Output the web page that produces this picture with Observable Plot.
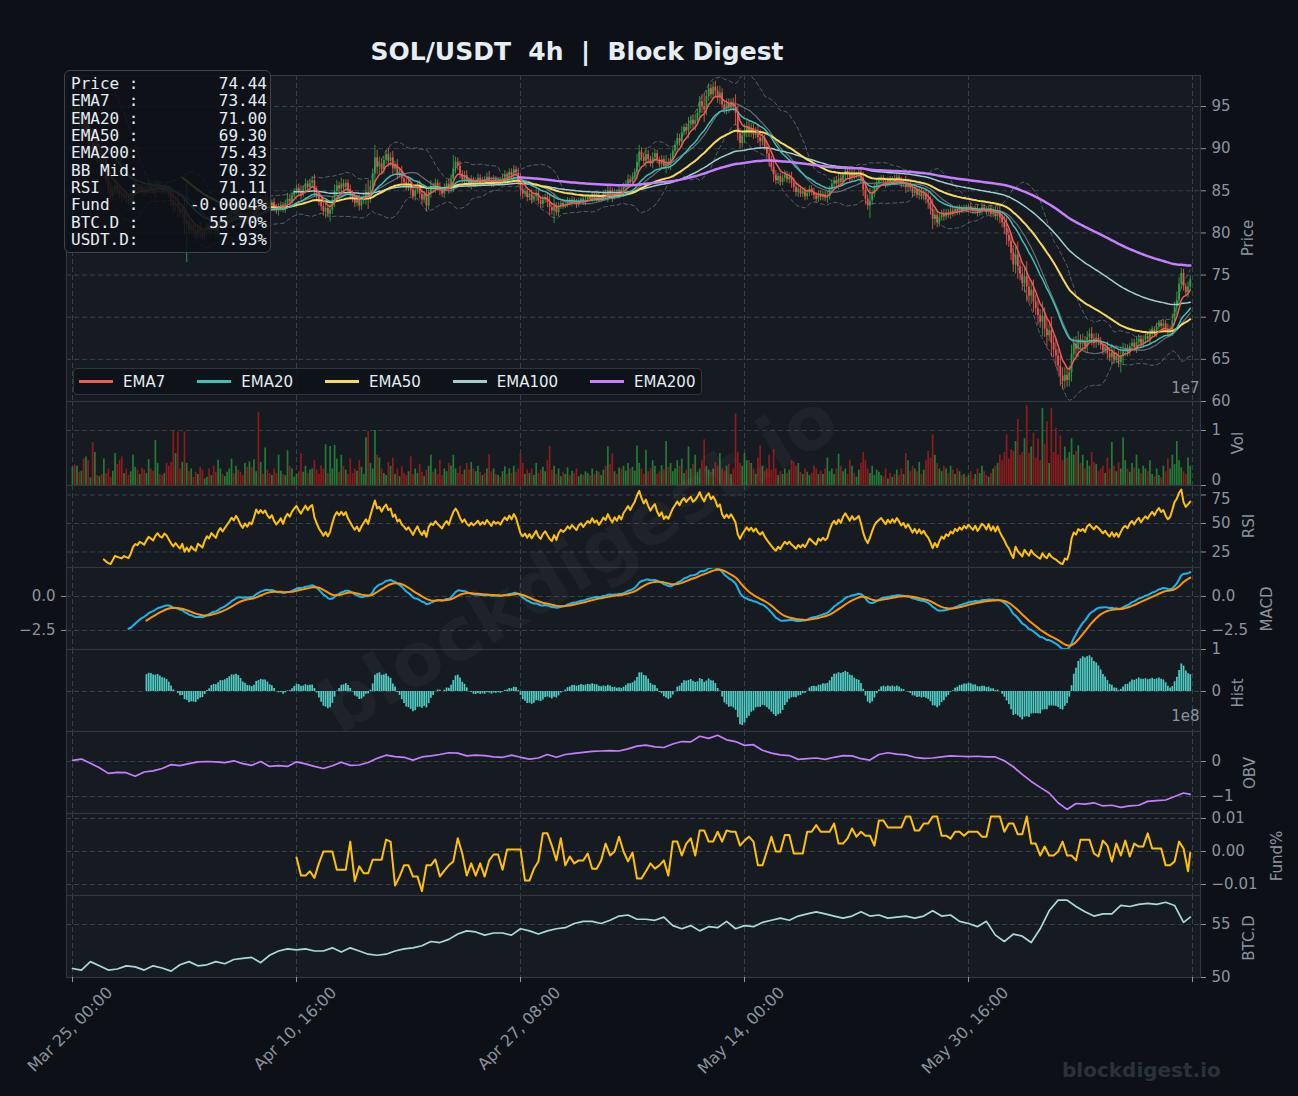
<!DOCTYPE html>
<html><head><meta charset="utf-8">
<script src="https://cdn.jsdelivr.net/npm/d3@7"></script>
<script src="https://cdn.jsdelivr.net/npm/@observablehq/plot@0.6"></script>
<style>
html,body{margin:0;padding:0;background:#0d1117;}
#root{position:relative;width:1298px;height:1096px;background:#0d1117;overflow:hidden;font-family:"DejaVu Sans",sans-serif;}
#root svg{position:absolute;left:0;}
.ylab{position:absolute;transform:translate(-50%,-50%) rotate(-90deg);color:#8b949e;font-size:15px;white-space:nowrap;}
</style></head><body><div id="root"></div>
<script>
// ---------------- DATA ----------------
const closes = [
94.8,93.9,94.5,92.9,93.6,91.9,92.6,90.9,91.5,89.9,
90.5,88.7,89.3,87.6,87.9,86.4,85.2,84.4,85.0,85.6,
85.0,84.6,84.2,84.5,84.0,83.6,84.1,84.9,85.3,85.0,
85.4,85.1,84.7,85.2,85.6,85.3,84.9,85.4,85.7,85.2,
85.0,85.4,85.1,84.5,83.8,83.2,83.5,82.9,82.4,82.8,
81.0,81.4,80.4,80.9,80.2,79.8,80.5,80.1,79.6,80.3,
80.8,80.4,81.0,80.6,80.2,80.9,81.3,80.8,81.2,81.6,
82.0,82.5,82.2,82.8,82.4,81.8,81.4,81.9,81.5,82.0,
81.8,82.6,83.8,83.4,83.9,83.6,84.0,83.5,83.2,83.6,
83.0,82.6,82.9,83.3,82.7,83.5,84.0,83.7,84.4,84.9,
85.3,84.9,84.6,85.2,85.8,85.4,85.9,86.2,85.0,84.3,
83.6,83.1,82.5,82.9,82.2,82.7,83.8,84.9,85.6,85.2,
85.8,85.4,85.9,85.1,84.6,84.0,83.5,83.9,83.2,83.8,
84.3,84.8,84.2,85.5,87.0,88.9,87.8,88.2,87.5,88.6,
89.3,88.5,88.9,87.6,88.1,86.9,87.3,86.4,86.0,85.4,
85.8,85.1,84.3,85.0,85.6,84.6,83.9,84.5,83.2,84.8,
85.5,85.2,85.9,85.4,85.0,84.6,85.3,85.8,85.2,86.4,
87.6,88.4,87.9,87.0,86.3,86.8,86.1,85.7,86.2,85.8,
86.1,86.5,85.9,86.3,86.0,86.6,86.2,85.8,86.4,86.1,
86.3,86.0,86.5,86.9,86.6,87.2,86.8,87.5,87.1,86.2,
85.1,84.6,84.9,84.2,84.6,83.9,84.3,84.7,83.8,83.4,
83.9,84.2,83.6,83.0,82.6,83.2,82.4,83.1,83.5,83.2,
83.4,83.8,83.5,83.9,83.6,83.3,83.8,84.0,83.6,83.9,
84.2,84.0,84.5,84.1,84.3,83.9,84.2,84.6,84.4,85.0,
84.6,84.3,84.8,84.5,85.0,84.7,85.4,85.8,86.3,86.0,
86.6,87.2,88.4,89.6,89.0,88.5,89.3,88.7,88.2,88.9,
89.4,88.6,88.1,88.7,87.9,88.3,88.0,88.8,89.7,90.4,
91.2,90.8,91.9,92.5,92.1,92.8,93.4,92.9,93.3,94.2,
95.6,95.0,94.6,96.2,97.1,96.4,97.3,96.8,96.0,96.6,
95.2,94.6,95.3,94.8,95.5,94.9,94.2,91.8,90.6,91.4,
92.0,92.6,91.9,92.4,91.6,92.1,91.3,90.8,91.2,90.2,
89.4,88.6,87.8,86.9,86.2,86.7,86.0,86.5,86.9,86.3,
86.6,85.9,85.4,84.8,85.2,84.6,84.9,84.3,84.7,85.2,
84.8,84.4,84.0,84.6,84.2,84.5,84.1,84.3,85.1,85.8,
86.2,85.8,86.4,86.0,86.8,87.3,86.9,86.5,87.1,86.7,
86.9,87.2,86.4,85.1,84.0,83.2,83.8,84.6,85.4,85.9,
86.2,86.5,86.1,85.7,86.3,85.9,86.4,86.0,86.6,86.2,
85.7,86.0,85.4,85.8,85.3,84.7,85.1,84.5,84.9,84.3,
84.6,84.0,83.6,82.8,81.6,82.1,81.2,81.8,82.3,81.9,
82.4,82.1,82.6,82.3,82.8,82.5,82.9,82.6,83.0,82.7,
83.1,82.8,82.5,82.9,82.3,82.6,83.0,82.8,82.4,82.9,
82.2,82.6,82.0,82.5,81.8,81.2,80.6,79.7,79.0,77.6,
76.2,77.4,76.0,75.1,74.0,74.8,73.6,72.5,73.2,71.8,
71.0,70.2,69.4,70.1,68.6,67.8,68.4,66.9,66.1,65.4,
64.2,63.0,62.4,63.1,62.5,63.4,65.6,66.8,66.2,67.3,
66.8,67.2,66.5,67.6,68.0,67.4,66.9,67.5,67.1,66.6,
66.0,66.4,65.7,65.2,65.8,64.9,65.4,64.6,65.3,65.9,
66.2,65.8,66.5,66.9,66.4,67.0,67.4,66.8,67.3,67.7,
67.4,68.0,68.5,68.1,68.8,69.3,68.9,69.2,68.6,68.2,
68.5,69.6,71.2,72.0,73.9,75.2,73.6,72.9,73.6,74.44
];
const wick = [
.5,.4,.6,.5,.7,.5,.6,.8,.5,.9, .7,.5,.4,.6,.8,.5,.6,.7,.5,.6,
.4,.5,.6,.3,.5,.4,.6,.7,.5,.4, .3,.5,.4,.3,.6,.4,.3,.8,.5,.3,
.3,.4,.5,.4,.6,1.0,.7,1.1,.5,.6, 1.2,4.5,.6,.5,.4,.6,.5,.7,.5,.4,
.4,.6,.5,.4,.5,.7,.4,.5,.3,.5, .5,.7,.4,.6,.5,.4,.5,.6,.5,.6,
.5,.7,.6,1.2,.5,.4,.8,.5,.4,.3, .5,.4,.6,.4,.3,.4,.7,.5,.4,.3,
.4,.5,.7,.4,.6,.4,.5,.5,.7,.5, .4,.5,.5,.8,.4,.9,.5,.8,.6,.4,
.7,.5,.4,.4,.6,.4,.5,.4,.6,.5, .4,1.0,1.4,.7,.6,1.5,.9,.8,.6,.5,
.5,.7,.6,.8,.4,.6,.4,.6,.5,.4, .5,.7,.4,.5,.4,.6,.5,.4,.7,.5,
.7,.4,.5,.4,.6,.4,.5,.4,.6,.5, 1.6,.6,.5,.6,.4,.5,.6,.4,.6,.4,
.4,.5,.4,.3,.4,.5,.7,.4,.4,.3, .3,.3,.4,.5,.3,.4,.4,.5,.4,.6,
.8,.6,.4,.5,.4,.5,.3,.6,.4,.5, .5,.4,.6,1.0,.5,1.5,.4,.5,.3,.4,
.3,.4,.3,.4,.3,.4,.3,.3,.3,.4, .3,.3,.4,.3,.4,.3,.3,.4,.5,.8,
.5,.7,.4,.3,.5,.4,.5,.4,.6,.5, .5,.4,.9,.8,.5,.4,.8,.5,.4,.6,
.5,.4,.4,.5,.4,.9,.5,.6,.4,.5, .6,.5,.7,.4,.5,.9,.5,.6,.8,.5,
.6,.8,1.5,.7,.6,.5,.6,.7,.6,.8, .5,.5,.6,.6,.4,.5,1.5,.9,.6,.5,
.8,.7,.6,.6,.5,.4,.7,.9,.5,.4, .5,.8,.5,.9,.5,.4,.4,.4,.5,.4,
.5,.6,.6,.5,.6,.4,.4,.5,.4,.4, .4,.5,.4,.4,.4,.4,.4,.6,.4,.5,
.4,.5,.7,.5,.4,.5,.4,.6,.5,.4, .3,.5,.6,.8,.7,.5,1.5,.5,.4,.5,
.4,.3,.3,.4,.3,.4,.3,.4,.4,.3, .4,.3,.7,.6,.4,.5,.4,.4,.6,.4,
.5,.6,.8,.7,1.2,.7,.6,.5,.4,.5, .4,.4,.5,.4,.3,.4,.4,.3,.3,.3,
.3,.4,.3,.3,.4,.3,.5,.4,.3,.3, .4,.4,.5,.6,.7,.6,.8,1.2,.7,.9,
.9,1.1,1.5,.8,.9,1.1,1.8,.8,1.0,1.2, .8,1.1,.7,1.7,1.0,1.4,.7,1.6,.9,1.3,
.8,1.2,1.0,.9,.8,.8,1.1,.8,.9,1.0, .6,.8,.5,.7,.6,.8,.6,.6,.5,.5,
.5,.4,.7,.5,1.0,.5,.4,.6,1.2,1.0, .6,.5,.4,.5,.5,.7,.5,.4,.5,.5,
.4,.6,.4,.3,.5,.3,.3,.5,.4,.6, .5,.8,.6,1.0,.8,.6,.5,.4,.6,.5
];
// volume in units of 1e7
const volume = [
.33,.37,.35,.24,.26,.48,.52,.45,.14,.78, .6,.18,.16,.2,.48,.22,.3,.15,.26,.58,
.38,.46,.52,.22,.3,.18,.25,.55,.33,.28, .2,.31,.28,.22,.47,.3,.26,.82,.4,.2,
.18,.22,.4,.35,.42,.98,.58,.97,.3,.42, .97,.4,.25,.3,.15,.24,.2,.33,.28,.12,
.15,.3,.18,.35,.24,.46,.3,.2,.16,.24, .3,.48,.22,.35,.28,.24,.18,.4,.33,.43,
.33,.47,.25,1.33,.42,.2,.68,.28,.22,.18, .3,.22,.55,.26,.2,.18,.63,.35,.3,.15,
.2,.25,.58,.24,.35,.22,.28,.3,.45,.28, .2,.36,.3,.74,.22,.71,.3,.73,.48,.24,
.55,.35,.28,.2,.48,.22,.3,.26,.45,.33, .2,.87,.98,.4,.3,1.0,.55,.5,.3,.22,
.18,.42,.35,.5,.2,.3,.16,.34,.22,.18, .25,.52,.2,.3,.22,.38,.24,.16,.28,.35,
.55,.24,.3,.2,.46,.18,.3,.25,.4,.35, .55,.3,.22,.35,.2,.28,.4,.28,.42,.3,
.25,.35,.24,.18,.22,.3,.56,.25,.3,.2, .18,.15,.25,.34,.2,.3,.22,.35,.24,.3,
.57,.4,.2,.28,.22,.3,.18,.4,.22,.28, .33,.25,.45,.71,.28,.35,.2,.3,.16,.24,
.2,.32,.18,.26,.22,.3,.16,.2,.18,.25, .22,.18,.3,.2,.26,.24,.18,.28,.35,.7,
.38,.58,.25,.2,.32,.3,.35,.26,.4,.3, .33,.26,.72,.4,.3,.2,.64,.25,.3,.45,
.35,.2,.25,.36,.28,.8,.33,.4,.25,.3, .45,.35,.48,.22,.28,.7,.3,.38,.55,.24,
.3,.45,.83,.35,.28,.24,.3,.42,.35,.58, .3,.25,.35,.38,.2,.3,1.3,.6,.4,.35,
.58,.45,.45,.4,.3,.2,.5,.72,.35,.25, .3,.55,.28,.65,.3,.18,.25,.2,.3,.22,
.28,.45,.42,.35,.4,.24,.2,.3,.24,.18, .22,.35,.3,.2,.26,.2,.3,.5,.25,.3,
.2,.3,.57,.35,.25,.3,.2,.46,.35,.22, .15,.28,.4,.6,.45,.3,.22,.35,.18,.28,
.24,.18,.16,.3,.12,.22,.15,.2,.28,.18, .3,.2,.58,.45,.25,.35,.3,.25,.42,.2,
.28,.45,.62,.5,.92,.55,.4,.3,.25,.35, .3,.22,.35,.28,.2,.3,.25,.18,.2,.15,
.18,.25,.12,.2,.3,.22,.35,.25,.18,.15, .22,.3,.35,.4,.55,.45,.6,.92,.48,.65,
.62,.8,1.2,.55,.6,.85,1.45,.58,.7,.95, .5,.85,.45,1.4,.75,1.16,.4,1.4,.6,1.04,
.55,.9,.45,.7,.5,.6,.85,.55,.62,.72, .4,.55,.3,.45,.35,.6,.42,.38,.25,.3,
.35,.22,.5,.3,.78,.35,.25,.42,.3,.87, .45,.3,.24,.4,.32,.55,.3,.22,.35,.3,
.25,.45,.2,.16,.3,.18,.14,.35,.25,.48, .3,.55,.38,.8,.45,.32,.25,.2,.5,.35
];
// OBV in units of 1e8, one value every 4 bars (last = final bar)
const obv = [
0.03,0.07,-0.05,-0.18,-0.34,-0.31,-0.32,-0.42,-0.3,-0.27,
-0.2,-0.09,-0.12,-0.06,-0.01,0,-0.01,-0.03,0.02,-0.06,
-0.11,0,-0.14,-0.12,-0.14,-0.01,-0.07,-0.14,-0.2,-0.12,
-0.02,-0.11,-0.1,-0.03,0.09,0.18,0.14,0.12,0.04,0.13,
0.16,0.2,0.25,0.24,0.16,0.18,0.17,0.13,0.12,0.18,
0.12,0.07,0.1,0.2,0.12,0.2,0.23,0.26,0.29,0.3,
0.31,0.3,0.36,0.44,0.47,0.42,0.4,0.5,0.57,0.56,
0.72,0.66,0.75,0.62,0.57,0.46,0.48,0.32,0.24,0.19,
0.17,0.06,0.08,0.1,0.06,0.12,0.17,0.16,0.08,0.04,
0.2,0.25,0.21,0.19,0.12,0.09,0.1,0.13,0.16,0.15,
0.14,0.15,0.13,0.13,0.02,-0.15,-0.37,-0.57,-0.74,-0.9,
-1.18,-1.37,-1.2,-1.22,-1.18,-1.27,-1.25,-1.31,-1.27,-1.25,
-1.14,-1.12,-1.1,-1.0,-0.9,-0.94
];
// BTC dominance (%), one value every 4 bars (last = final bar)
const btcd = [
50.85,50.7,51.5,51.1,50.7,50.8,51.1,51.0,50.7,51.1,
50.9,50.6,51.2,51.5,51.1,51.2,51.5,51.3,51.7,51.8,
51.9,51.4,52.1,52.5,52.7,52.6,52.7,52.5,52.5,52.8,
52.4,52.8,52.5,52.2,52.1,52.2,52.5,52.7,52.8,53.0,
53.4,53.3,53.6,54.1,54.4,54.3,54.0,54.2,54.2,54.0,
54.6,54.4,54.1,54.4,54.6,54.7,55.1,55.3,55.3,55.1,
55.4,55.8,55.9,55.5,55.5,55.4,55.7,54.9,54.6,54.9,
54.4,54.8,54.7,55.3,54.6,54.9,54.8,55.2,55.4,55.6,
55.4,55.8,56.0,56.2,56.0,55.8,55.6,55.8,56.2,55.8,
55.9,55.6,55.7,55.8,55.6,55.8,56.3,55.8,55.9,55.3,
55.1,54.8,55.3,54.0,53.4,54.1,53.9,53.3,54.6,56.3,
57.3,57.3,56.7,56.2,55.8,56.0,56.0,56.8,56.7,56.9,
57.0,56.9,57.1,56.8,55.2,55.7
];
// funding rate (%), one value per 8h from bar 100 (last = final bar)
const fund = [
-0.0018,-0.0073,-0.0073,-0.006,-0.008,-0.0036,0,0,0,-0.0055,
-0.0055,-0.0055,0.003,-0.009,-0.0045,-0.0066,-0.0066,-0.0025,-0.0025,-0.0025,
0.0036,0.003,-0.0103,-0.0076,-0.0042,-0.0042,-0.0076,-0.0076,-0.012,-0.0042,
-0.0042,-0.0024,-0.0076,-0.0058,-0.0042,-0.003,0.004,-0.0006,-0.0073,-0.0036,
-0.0073,-0.0036,-0.0076,-0.0027,-0.0009,-0.0009,-0.0055,0.0006,0.0006,0.0006,
0.0006,-0.0088,-0.0088,-0.0052,-0.003,0.0055,0.0055,0.0018,-0.0027,0.004,
-0.0042,-0.0015,-0.0036,-0.0027,-0.0027,-0.0006,-0.0052,-0.0052,-0.0027,0.0024,
-0.0012,0,0.0045,0,-0.003,-0.0003,-0.0082,-0.0082,-0.006,-0.0036,
-0.0052,-0.0042,-0.0027,-0.0073,0.003,0.003,-0.0012,0.0024,0.004,-0.0012,
0.0064,0.0064,0.003,0.003,0.006,0.003,0.0064,0.006,0.006,0.0018,
0.0033,0.0045,0.003,-0.0042,-0.0042,0,0.0045,0,0,0.005,
0.005,-0.0006,-0.0006,-0.0006,0.006,0.006,0.008,0.006,0.006,0.006,
0.0085,0.0024,0.0024,0.004,0.007,0.0045,0.006,0.0048,0.0048,0.0018,
0.0094,0.0094,0.0073,0.0073,0.0073,0.0073,0.0106,0.0106,0.0064,0.0064,
0.0085,0.0085,0.0106,0.0106,0.0048,0.0048,0.0039,0.006,0.006,0.0048,
0.006,0.006,0.006,0.0045,0.0045,0.0106,0.0106,0.0106,0.006,0.0085,
0.0085,0.0052,0.0052,0.0106,0.0024,0.0024,-0.0012,0.0015,-0.0012,-0.0012,
0,0.003,-0.0012,-0.0012,-0.0027,0.0036,0.0036,0.0036,-0.0006,-0.0015,
0.0033,0.0018,-0.003,0.0024,-0.0012,0.0033,-0.0015,0.0024,0.0015,0.0015,
0.0055,0.0009,0.0009,0.0009,-0.0042,-0.0042,-0.003,0.003,0.0009,-0.006,
-0.0004
];
const xTickLabels = ["Mar 25, 00:00","Apr 10, 16:00","Apr 27, 08:00","May 14, 00:00","May 30, 16:00",""];
const infoLabels = ["Price :","EMA7  :","EMA20 :","EMA50 :","EMA200:","BB Mid:","RSI   :","Fund  :","BTC.D :","USDT.D:"];
const infoValues = ["74.44","73.44","71.00","69.30","75.43","70.32","71.11","-0.0004%","55.70%","7.93%"];
const legendNames = ["EMA7","EMA20","EMA50","EMA100","EMA200"];
const titleText = "SOL/USDT  4h  |  Block Digest";
const watermark = "blockdigest.io";

// ---------------- STYLE ----------------
const C = {up:"#2ea043", dn:"#e5534b", vup:"#238636", vdn:"#9b1c1c",
  ema7:"#ef5b55", ema20:"#3fc1b5", ema50:"#f7d95c", ema100:"#9fd0cf", ema200:"#c77dff",
  bb:"#8b949e", rsi:"#ffc107", macd:"#1ab5ef", sig:"#ff9500", hist:"#4ecdc4",
  obv:"#c77dff", fund:"#ffc107", btcd:"#a8dadc", grid:"#8b949e", panel:"#161b22", border:"#30363d", text:"#8b949e"};
const FONT = "'DejaVu Sans', sans-serif";

// ---------------- DERIVED ----------------
const root = document.getElementById("root");
const BAR = 4*3600*1000, T0 = Date.UTC(2025,2,25,0,0);
const T = i => new Date(T0 + i*BAR);
const N = closes.length;
const xDomain = [T(-2.68), T(503.57)];
const xTicks = [0,100,200,300,400,500].map(T);
const tickLabel = new Map(xTicks.map((d,i)=>[+d, xTickLabels[i]]));

function ewm(arr, alpha, minP){
  const out = new Array(arr.length).fill(NaN); let prev = null, cnt = 0;
  for (let i=0;i<arr.length;i++){ const v = arr[i];
    if (v==null || Number.isNaN(v)) continue;
    prev = prev===null ? v : alpha*v + (1-alpha)*prev; cnt++;
    if (cnt>=minP) out[i]=prev; }
  return out;
}
const ema = (a, span) => ewm(a, 2/(span+1), span);
const opens = closes.map((c,i)=> i ? closes[i-1] : c);
const e7 = ema(closes,7), e20 = ema(closes,20), e50 = ema(closes,50), e100 = ema(closes,100), e200 = ema(closes,200);
const bbM = [], bbU = [], bbL = [];
for (let i=0;i<N;i++){
  if (i<19){ bbM.push(NaN); bbU.push(NaN); bbL.push(NaN); continue; }
  const w = closes.slice(i-19,i+1); const m = d3.mean(w); const sd = d3.deviation(w);
  bbM.push(m); bbU.push(m+2*sd); bbL.push(m-2*sd);
}
const gains = closes.map((c,i)=> i ? Math.max(c-closes[i-1],0) : NaN);
const losses = closes.map((c,i)=> i ? Math.max(closes[i-1]-c,0) : NaN);
const ag = ewm(gains,1/14,14), al = ewm(losses,1/14,14);
const rsi = ag.map((g,i)=> Number.isNaN(g) ? NaN : (al[i]===0 ? 100 : 100 - 100/(1+g/al[i])));
const e12 = ema(closes,12), e26 = ema(closes,26);
const macd = e12.map((v,i)=> v - e26[i]);
const signal = ewm(macd, 2/10, 9);
const hist = macd.map((v,i)=> v - signal[i]);

const rows = closes.map((c,i)=>{ const o = opens[i], w = wick[i];
  return {t:T(i), o, c, h:Math.max(o,c)+w, l:Math.min(o,c)-w, v:volume[i], up:c>=o,
    e7:e7[i], e20:e20[i], e50:e50[i], e100:e100[i], e200:e200[i], bbM:bbM[i], bbU:bbU[i], bbL:bbL[i],
    rsi:rsi[i], macd:macd[i], sig:signal[i], hist:hist[i]}; });
const histRows = rows.filter(d => !Number.isNaN(d.hist));
const obvRows = obv.map((v,j)=>({t:T(Math.min(4*j, N-1)), v}));
const btcRows = btcd.map((v,j)=>({t:T(Math.min(4*j, N-1)), v}));
const fundRows = fund.map((f,k)=>({t:T(Math.min(100+2*k, N-1)), f}));

// ---------------- PANELS ----------------
function gridMarks(yTicks){
  return [
    Plot.frame({fill:C.panel}),
    Plot.gridY(yTicks, {stroke:C.grid, strokeOpacity:0.3, strokeDasharray:"5,3"}),
    Plot.gridX(xTicks, {stroke:C.grid, strokeOpacity:0.3, strokeDasharray:"5,3"})
  ];
}
function axisMarks(yTicks, fmt){
  return [
    Plot.frame({stroke:C.border, strokeWidth:1.2}),
    Plot.axisY(yTicks, {anchor:"right", tickFormat:fmt, tickSize:5, tickPadding:6, label:null})
  ];
}
// a single right-hand tick label nudged vertically (keeps neighbouring panels' labels apart)
const nudgedLabel = (v, label, dy) => Plot.text([v], {y:d=>d, frameAnchor:"right", text:()=>label, textAnchor:"start", dx:11, dy, fill:C.text});
function panel(top, h, bottom, yDomain, marks){
  const svg = Plot.plot({
    width:1298, height:h+bottom, marginLeft:66, marginRight:98, marginTop:0, marginBottom:bottom,
    x:{type:"utc", domain:xDomain, axis:null},
    y:{domain:yDomain, axis:null},
    color:{type:"identity"},
    style:{background:"transparent", color:C.text, fontFamily:FONT, fontSize:"15px", overflow:"visible"},
    marks
  });
  svg.style.position = "absolute"; svg.style.left = "0px"; svg.style.top = top+"px";
  root.appendChild(svg);
}
const fInt = d3.format("d");

// Price
const pT = [60,65,70,75,80,85,90,95];
panel(75, 326, 0, [60, 98.68], [
  ...gridMarks(pT),
  Plot.ruleX(rows, {x:"t", y1:"l", y2:"h", stroke:d=>d.up?C.up:C.dn, strokeWidth:0.9, clip:true}),
  Plot.ruleX(rows, {x:"t", y1:"o", y2:"c", stroke:d=>d.up?C.up:C.dn, strokeWidth:1.8, clip:true}),
  Plot.line(rows, {x:"t", y:"bbU", stroke:C.bb, strokeOpacity:0.55, strokeWidth:1, strokeDasharray:"4,3", clip:true}),
  Plot.line(rows, {x:"t", y:"bbL", stroke:C.bb, strokeOpacity:0.55, strokeWidth:1, strokeDasharray:"4,3", clip:true}),
  Plot.line(rows, {x:"t", y:"bbM", stroke:"#7d8590", strokeOpacity:0.8, strokeWidth:1.2, clip:true}),
  Plot.line(rows, {x:"t", y:"e100", stroke:C.ema100, strokeWidth:1.5, clip:true}),
  Plot.line(rows, {x:"t", y:"e50", stroke:C.ema50, strokeWidth:2, clip:true}),
  Plot.line(rows, {x:"t", y:"e20", stroke:C.ema20, strokeWidth:1.5, clip:true}),
  Plot.line(rows, {x:"t", y:"e7", stroke:C.ema7, strokeWidth:1.5, clip:true}),
  Plot.line(rows, {x:"t", y:"e200", stroke:C.ema200, strokeWidth:2.5, clip:true}),
  Plot.text(["1e7"], {frameAnchor:"bottom-right", textAnchor:"end", dx:-1, dy:-9, fill:C.text}),
  ...axisMarks(pT, fInt)
]);
// Volume
panel(401, 84, 0, [0, 1.527], [
  ...gridMarks([0,1]),
  Plot.ruleX(rows, {x:"t", y1:0, y2:"v", stroke:d=>d.up?C.vup:C.vdn, strokeOpacity:0.9, strokeWidth:1.7, clip:true}),
  ...axisMarks([0,1], d => d===0 ? "" : fInt(d)),
  nudgedLabel(0, "0", -5)
]);
// RSI
panel(485, 82, 0, [11.4, 83.33], [
  ...gridMarks([25,50,75]),
  Plot.line(rows, {x:"t", y:"rsi", stroke:C.rsi, strokeWidth:2, clip:true}),
  ...axisMarks([25,50,75], d => d===75 ? "" : fInt(d)),
  nudgedLabel(75, "75", 4)
]);
// MACD
const mT = [0,-2.5];
panel(567, 82, 0, [-3.9, 2.13], [
  ...gridMarks(mT),
  Plot.line(rows, {x:"t", y:"macd", stroke:C.macd, strokeWidth:2, clip:true}),
  Plot.line(rows, {x:"t", y:"sig", stroke:C.sig, strokeWidth:2, clip:true}),
  ...axisMarks(mT, d3.format(".1f")),
  Plot.axisY(mT, {anchor:"left", tickFormat:d3.format(".1f"), tickSize:5, tickPadding:6, label:null})
]);
// Hist
panel(649, 82, 0, [-0.952, 1], [
  ...gridMarks([0,1]),
  Plot.ruleX(histRows, {x:"t", y1:0, y2:"hist", stroke:C.hist, strokeWidth:1.7, clip:true}),
  Plot.text(["1e8"], {frameAnchor:"bottom-right", textAnchor:"end", dx:-1, dy:-11, fill:C.text}),
  ...axisMarks([0,1], fInt)
]);
// OBV
panel(731, 82, 0, [-1.486, 0.857], [
  ...gridMarks([0,-1]),
  Plot.line(obvRows, {x:"t", y:"v", stroke:C.obv, strokeWidth:1.7, clip:true}),
  ...axisMarks([0,-1], fInt)
]);
// Funding
const fT = [0.01,0,-0.01];
panel(813, 82, 0, [-0.01333, 0.01152], [
  ...gridMarks(fT),
  Plot.line(fundRows, {x:"t", y:"f", stroke:C.fund, strokeWidth:2, clip:true}),
  ...axisMarks(fT, d3.format(".2f"))
]);
// BTC.D + x axis
panel(895, 82, 119, [50, 57.74], [
  ...gridMarks([50,55]),
  Plot.line(btcRows, {x:"t", y:"v", stroke:C.btcd, strokeWidth:1.7, clip:true}),
  ...axisMarks([50,55], fInt),
  Plot.axisX(xTicks, {anchor:"bottom", tickSize:5, tickFormat:()=>"", label:null}),
  Plot.text(xTicks, {x:d=>d, frameAnchor:"bottom", text:d=>tickLabel.get(+d), rotate:-45, textAnchor:"end", dx:41, dy:16, fill:C.text, fontSize:16})
]);

// ---------------- HTML TEXT OVERLAYS ----------------
function el(tag, css, text){ const e = document.createElement(tag); e.style.cssText = css; if (text!=null) e.textContent = text; root.appendChild(e); return e; }
el("div", `position:absolute;left:577px;top:37px;transform:translateX(-50%);font:bold 25px ${FONT};line-height:29px;color:#e6edf3;white-space:pre;`, titleText);
[["Price",1248,238],["Vol",1238,443],["RSI",1249,526],["MACD",1267,609],["Hist",1238,693],["OBV",1250,773],["Fund%",1277,856],["BTC.D",1249,938]]
  .forEach(([t,x,y]) => { const s = el("div", `left:${x}px;top:${y}px;`, t); s.className = "ylab"; });
el("div", `position:absolute;left:578px;top:562px;transform:translate(-50%,-50%) rotate(-31deg);font:bold 74px ${FONT};color:rgba(255,255,255,0.035);white-space:nowrap;`, watermark);
el("div", `position:absolute;left:1062px;top:1058px;font:bold 20px ${FONT};color:#2b3139;white-space:nowrap;`, watermark);
// info box
const box = el("div", `position:absolute;left:64px;top:70px;width:205px;height:181px;background:rgba(13,17,23,0.86);border:1.5px solid #3d444d;border-radius:6px;box-sizing:content-box;`);
const pre = document.createElement("div");
pre.style.cssText = `position:absolute;left:6px;top:4px;width:196px;font:16px 'DejaVu Sans Mono',monospace;line-height:17.35px;color:#e6edf3;white-space:pre;`;
infoLabels.forEach((lab,i)=>{ const r = document.createElement("div"); r.style.cssText="display:flex;justify-content:space-between;";
  const a = document.createElement("span"); a.textContent = lab; const b = document.createElement("span"); b.textContent = infoValues[i];
  r.appendChild(a); r.appendChild(b); pre.appendChild(r); });
box.appendChild(pre);
// legend
const leg = el("div", `position:absolute;left:73px;top:368px;height:25px;padding:0 6px 0 5px;display:flex;align-items:center;background:rgba(13,17,23,0.85);border:1px solid #30363d;border-radius:4px;font:15px ${FONT};color:#e6edf3;`);
const legColors = [C.ema7,C.ema20,C.ema50,C.ema100,C.ema200];
legendNames.forEach((nm,i)=>{ const it = document.createElement("div"); it.style.cssText = `display:flex;align-items:center;margin-right:${i<4?32:0}px;`;
  const sw = document.createElement("span"); sw.style.cssText = `display:inline-block;width:34px;height:3px;background:${legColors[i]};margin-right:10px;`;
  const tx = document.createElement("span"); tx.textContent = nm; it.appendChild(sw); it.appendChild(tx); leg.appendChild(it); });
</script></body></html>
